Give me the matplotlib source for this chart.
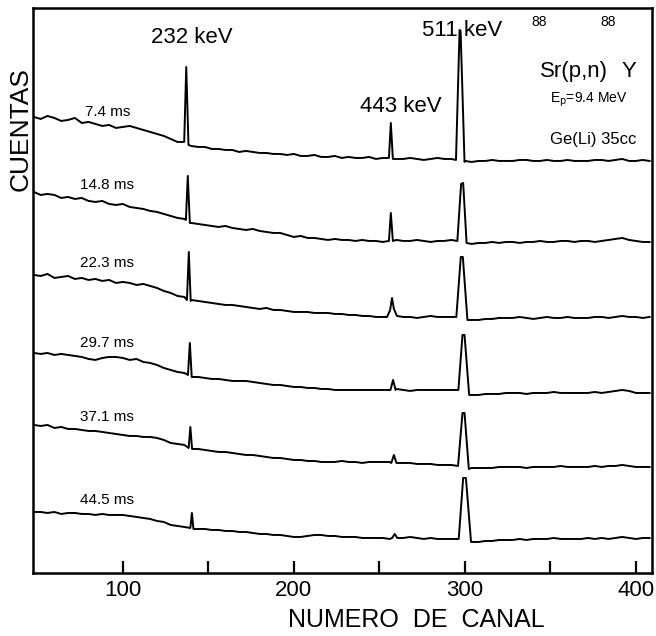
import matplotlib
matplotlib.use('Agg')
import matplotlib.pyplot as plt
import numpy as np

plt.rcParams['font.family'] = ['Liberation Sans', 'DejaVu Sans']

# canales del fondo (cada 4 canales)
canales = list(range(48, 409, 4))

tiempos = ['7.4 ms', '14.8 ms', '22.3 ms', '29.7 ms', '37.1 ms', '44.5 ms']
desplaz = [412, 331, 255, 181, 106, 34]

# fondo de cada espectro (cuentas relativas)
fondo_74 = [44, 42, 45, 43, 40, 41, 43, 38, 39, 37,
            35, 36, 33, 34, 35, 33, 31, 29, 27, 25,
            22, 19, 18, 15, 14, 14, 12, 12, 11, 11,
            9, 10, 9, 8, 8, 7, 7, 6, 7, 5,
            5, 6, 4, 4, 5, 3, 4, 3, 3, 4,
            2, 3, 3, 2, 2, 3, 2, 1, 2, 3,
            2, 2, 2, 0, -1, 0, 0, 1, 0, 0,
            0, 1, 1, 0, 0, 1, 0, 0, 1, 0,
            0, 0, 1, 1, 0, 1, 2, 0, 0, 1,
            0]
fondo_148 = [50, 47, 48, 47, 44, 45, 43, 44, 41, 40,
             41, 38, 37, 38, 35, 34, 33, 31, 30, 28,
             26, 24, 23, 19, 18, 17, 16, 15, 16, 14,
             13, 12, 13, 11, 10, 9, 9, 7, 5, 6,
             4, 4, 3, 2, 3, 2, 2, 1, 2, 1,
             1, 0, 1, 2, 1, 1, 2, 1, 0, 1,
             1, 2, 1, 0, -2, -1, -1, 0, -1, 0,
             0, -1, 0, 0, 1, 0, 0, 1, 1, 0,
             1, 1, 0, 1, 2, 3, 4, 2, 1, 0,
             0]
fondo_223 = [43, 42, 44, 40, 41, 42, 39, 40, 38, 39,
             37, 38, 35, 36, 35, 33, 34, 32, 30, 27,
             25, 22, 21, 18, 17, 16, 15, 14, 13, 13,
             12, 11, 10, 9, 10, 8, 8, 7, 6, 6,
             6, 5, 5, 5, 4, 4, 3, 3, 2, 2,
             1, 1, 1, 3, 1, 1, 0, 1, 2, 1,
             1, 1, 1, 0, -2, -2, -1, -1, 0, 0,
             0, 1, 0, -1, 0, 1, 0, 0, 1, 0,
             0, 0, 1, 1, 0, 1, 2, 1, 1, 0,
             1]
fondo_297 = [39, 38, 39, 37, 38, 37, 36, 35, 33, 32,
             34, 35, 35, 34, 32, 33, 30, 29, 27, 24,
             22, 20, 19, 16, 15, 14, 13, 13, 12, 11,
             11, 11, 10, 9, 8, 7, 7, 6, 5, 5,
             4, 4, 3, 3, 2, 2, 2, 2, 2, 2,
             2, 2, 2, 3, 2, 1, 2, 2, 2, 2,
             2, 2, 2, 0, -3, -3, -2, -2, -2, -1,
             -1, -1, -2, -1, -1, -1, 0, -1, -1, -1,
             -1, -1, 0, -1, 0, 1, 2, 1, -1, -1,
             -1]
fondo_371 = [42, 41, 42, 39, 40, 38, 38, 37, 36, 36,
             35, 34, 33, 32, 31, 31, 30, 30, 29, 27,
             24, 23, 22, 19, 18, 17, 16, 15, 15, 14,
             13, 12, 12, 11, 10, 9, 9, 8, 7, 7,
             6, 6, 5, 5, 5, 6, 5, 5, 4, 5,
             5, 5, 5, 4, 4, 4, 3, 3, 3, 2,
             2, 2, 1, 0, -1, -1, -1, -1, 0, 0,
             0, 0, -1, 0, 0, 0, 0, 1, 0, 0,
             0, 0, 1, 0, 1, 1, 2, 1, 0, 0,
             0]
fondo_445 = [27, 27, 26, 27, 25, 26, 26, 25, 25, 24,
             25, 24, 24, 24, 23, 22, 21, 20, 18, 17,
             14, 13, 12, 11, 10, 10, 9, 9, 8, 8,
             7, 7, 6, 5, 5, 4, 4, 3, 2, 2,
             3, 4, 4, 3, 3, 2, 2, 2, 1, 1,
             1, 1, 0, 1, 1, 2, 1, 0, 1, 0,
             0, 0, 0, -1, -3, -3, -2, -2, -1, -1,
             -1, 0, -1, 0, 0, 0, 1, 0, 0, 0,
             0, 1, 0, 1, 0, 1, 2, 1, 0, 1,
             1]
fondos = [fondo_74, fondo_148, fondo_223, fondo_297, fondo_371, fondo_445]

# picos 232, 443 y 511 keV: canales y cuentas
pico232_can = [[135.9, 137.1, 138.4], [136.9, 138.0, 139.2], [137.5, 138.6, 139.7],
               [138.1, 139.2, 140.3], [138.5, 139.5, 140.5], [139.5, 140.4, 141.3]]
pico232_cts = [[19, 94, 16], [22, 66, 19], [18, 66, 17],
               [17, 49, 15], [19, 40, 18], [11, 26, 10]]
pico443_can = [[255.6, 256.7, 257.9], [255.6, 256.7, 257.9], [254.5, 256.3, 257.4, 258.5, 260.3],
               [256.5, 258.0, 259.5], [257.0, 258.5, 260.0], [257.5, 259.0, 260.5]]
pico443_cts = [[3, 38, 2], [1, 29, 1], [1, 8, 20, 9, 2],
               [2, 12, 2], [4, 12, 4], [1, 5, 1]]
pico511_can = [[294.8, 296.9, 297.5, 299.8], [295.6, 297.8, 299.0, 301.0], [295.0, 297.6, 298.8, 301.5],
               [296.2, 298.6, 299.8, 302.5], [296.0, 298.6, 299.8, 302.3], [296.4, 299.0, 300.6, 303.6]]
pico511_cts = [[1, 131, 130, -1], [1, 58, 59, -1], [1, 61, 61, -2],
               [2, 57, 57, -3], [1, 54, 54, -2], [0, 61, 61, -3]]

fig = plt.figure(figsize=(6.56, 6.36), dpi=100)
ax = fig.add_axes([0.0503, 0.0991, 0.9436, 0.8884])

for i in range(6):
    x = np.array(canales, dtype=float)
    y = np.array(fondos[i], dtype=float)
    mask = np.ones(len(x), dtype=bool)
    xs, ys = [], []
    for pc, pn in [(pico232_can[i], pico232_cts[i]), (pico443_can[i], pico443_cts[i]),
                   (pico511_can[i], pico511_cts[i])]:
        mask &= ~((x >= min(pc)) & (x <= max(pc)))
        xs += pc
        ys += pn
    xx = np.concatenate([x[mask], xs])
    yy = np.concatenate([y[mask], ys])
    orden = np.argsort(xx)
    ax.plot(xx[orden], yy[orden] + desplaz[i], color='black', lw=1.4)

# etiquetas de tiempo
ty = [461, 388, 310, 230, 156, 73]
for i in range(6):
    ax.text(91, ty[i], tiempos[i], ha='center', va='center', fontsize=11)

ax.text(140.6, 535, '232 keV', ha='center', va='center', fontsize=16)
ax.text(262.5, 466, '443 keV', ha='center', va='center', fontsize=16)
ax.text(298.1, 542, '511 keV', ha='center', va='center', fontsize=16)
ax.text(343.7, 551, '88', ha='center', va='center', fontsize=10)
ax.text(363.6, 501, 'Sr(p,n)', ha='center', va='center', fontsize=16)
ax.text(384.0, 551, '88', ha='center', va='center', fontsize=10)
ax.text(395.7, 501, 'Y', ha='center', va='center', fontsize=16)
ax.text(349.6, 473, r'E$_\mathrm{p}$=9.4 MeV', ha='left', va='center', fontsize=10)
ax.text(349.6, 433, 'Ge(Li) 35cc', ha='left', va='center', fontsize=12)

ax.text(-0.02, 0.786, 'CUENTAS', rotation=90, ha='center', va='center',
        fontsize=19, transform=ax.transAxes)
ax.text(0.62, -0.083, 'NUMERO  DE  CANAL', ha='center', va='center',
        fontsize=18, transform=ax.transAxes)

ax.set_xlim(47.5, 409.4)
ax.set_ylim(0, 565)
ax.set_xticks([100, 150, 200, 250, 300, 350, 400],
              ['100', '', '200', '', '300', '', '400'])
ax.set_yticks([])
ax.tick_params(axis='x', direction='in', length=9, width=1.6, labelsize=16, pad=5)
for s in ax.spines.values():
    s.set_linewidth(1.8)

fig.savefig('out.png', dpi=100)
